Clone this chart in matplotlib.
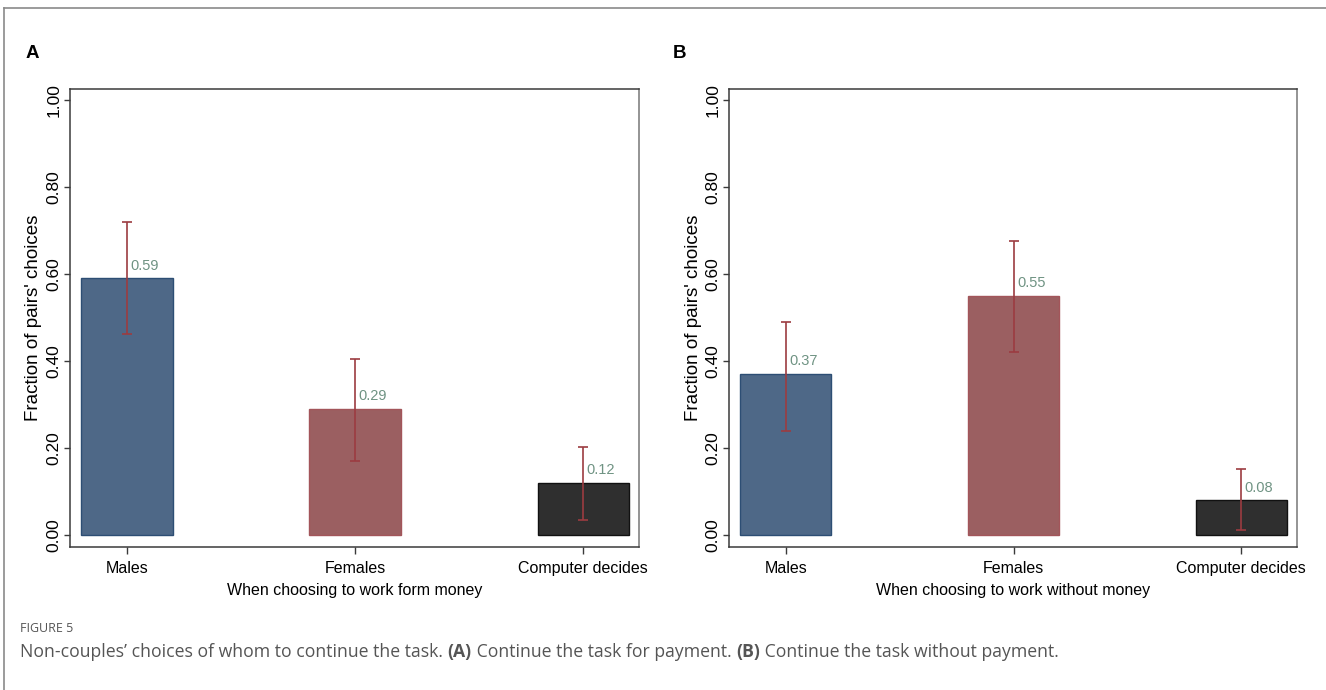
"""Fraction of pairs' choices by who continues the task, with and without payment."""

from __future__ import annotations

import matplotlib

matplotlib.use("Agg")

import matplotlib.pyplot as plt
from matplotlib.lines import Line2D

CATEGORIES = ["Males", "Females", "Computer decides"]

# panel A: working for money
MEANS_A = [0.59, 0.29, 0.12]
LOWER_A = [0.463, 0.169, 0.033]
UPPER_A = [0.719, 0.405, 0.201]

# panel B: working without money
MEANS_B = [0.37, 0.55, 0.08]
LOWER_B = [0.240, 0.420, 0.010]
UPPER_B = [0.489, 0.677, 0.152]

Y_TICKS = [0.0, 0.2, 0.4, 0.6, 0.8, 1.0]

BAR_FILL = ["#4e6887", "#9b5f61", "#2f2f2f"]
BAR_EDGE = ["#2d4e74", "#a3555a", "#111111"]
CI_COLOR = "#9c3c41"
LABEL_COLOR = "#6f9383"
SPINE_COLOR = "#3a3a3a"
CAPTION_COLOR = "#555555"

W, H = 1326, 690
FONT = ["Liberation Sans", "DejaVu Sans"]
CAPTION_FONT = ["Open Sans", "DejaVu Sans"]


def px_rect(left: float, top: float, right: float, bottom: float) -> list[float]:
    return [left / W, 1 - bottom / H, (right - left) / W, (bottom - top) / H]


def draw_panel(ax, means, lower, upper, xlabel: str) -> None:
    xs = list(range(len(CATEGORIES)))
    ax.bar(xs, means, width=0.4, color=BAR_FILL, edgecolor=BAR_EDGE, linewidth=1.0, zorder=2)
    err = [[m - lo for m, lo in zip(means, lower)], [hi - m for m, hi in zip(means, upper)]]
    ax.errorbar(xs, means, yerr=err, fmt="none", ecolor=CI_COLOR, elinewidth=1.2,
                capsize=3.5, capthick=1.2, zorder=3)
    for x, m in zip(xs, means):
        ax.annotate(f"{m:.2f}", (x, m), xytext=(2.5, 4), textcoords="offset points",
                    ha="left", va="bottom", fontsize=10.5, color=LABEL_COLOR,
                    family=FONT, zorder=4)

    ax.set_xlim(-0.25, 2.245)
    ax.set_ylim(-0.028, 1.026)
    ax.set_xticks(xs, CATEGORIES)
    ax.set_yticks(Y_TICKS, [f"{t:.2f}" for t in Y_TICKS])
    ax.tick_params(axis="y", labelrotation=90, length=4, width=1.0, pad=2,
                   labelsize=12.5, color=SPINE_COLOR)
    ax.tick_params(axis="x", length=5, width=1.0, pad=5, labelsize=11.5, color=SPINE_COLOR)
    for label in ax.get_yticklabels():
        label.set_va("center")
    for label in ax.get_xticklabels() + ax.get_yticklabels():
        label.set_family(FONT)

    ax.set_ylabel("Fraction of pairs' choices", fontsize=13.5, family=FONT, labelpad=3)
    ax.set_xlabel(xlabel, fontsize=11.5, family=FONT, labelpad=5)
    for side in ("left", "bottom", "top"):
        ax.spines[side].set_color(SPINE_COLOR)
        ax.spines[side].set_linewidth(1.1)
    ax.spines["right"].set_color("#777777")
    ax.spines["right"].set_linewidth(1.1)


def draw_caption(fig, ax) -> None:
    fig.text(20 / W, 1 - 629 / H, "FIGURE 5", fontsize=9, color=CAPTION_COLOR,
             family=CAPTION_FONT, va="center", ha="left")
    pieces = [
        ("Non-couples\u2019 choices of whom to continue the task. ", "normal"),
        ("(A)", "bold"),
        (" Continue the task for payment. ", "normal"),
        ("(B)", "bold"),
        (" Continue the task without payment.", "normal"),
    ]
    # each piece starts where the previous one ends
    prev = None
    for text, weight in pieces:
        style = dict(fontsize=12.7, color=CAPTION_COLOR, weight=weight,
                     family=CAPTION_FONT, ha="left", va="bottom")
        if prev is None:
            prev = fig.text(20 / W, 1 - 661 / H, text, **style)
        else:
            prev = ax.annotate(text, xy=(1, 0), xycoords=prev, annotation_clip=False, **style)


def main() -> None:
    fig = plt.figure(figsize=(W / 100, H / 100), dpi=100)

    # outer frame: left and top rules
    fig.add_artist(Line2D([4 / W, 4 / W], [0, 1 - 8 / H], color="#8a8a8a", linewidth=1.2))
    fig.add_artist(Line2D([4 / W, 1], [1 - 8 / H, 1 - 8 / H], color="#8a8a8a", linewidth=1.2))

    ax_a = fig.add_axes(px_rect(70, 89, 639, 547))
    ax_b = fig.add_axes(px_rect(729, 89, 1297, 547))
    draw_panel(ax_a, MEANS_A, LOWER_A, UPPER_A, "When choosing to work form money")
    draw_panel(ax_b, MEANS_B, LOWER_B, UPPER_B, "When choosing to work without money")

    fig.text(26 / W, 1 - 54 / H, "A", fontsize=13.5, weight="bold", family=FONT, va="center")
    fig.text(673 / W, 1 - 54 / H, "B", fontsize=13.5, weight="bold", family=FONT, va="center")

    draw_caption(fig, ax_a)
    fig.savefig("out.png", dpi=100)


if __name__ == "__main__":
    main()
